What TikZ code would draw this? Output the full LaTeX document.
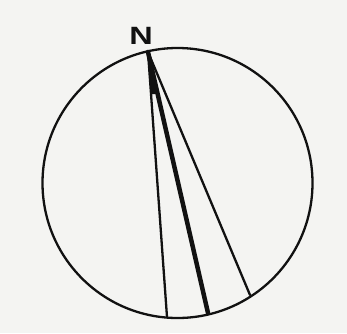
\documentclass[tikz,border=0pt]{standalone}
\usepackage{fontspec}
\setmainfont{Liberation Sans}
\usetikzlibrary{calc}
\definecolor{bgc}{HTML}{F4F4F2}
\definecolor{ink}{HTML}{111111}
\begin{document}
\begin{tikzpicture}[x=1pt,y=-1pt,line cap=round,
  thinline/.style={draw=ink,line width=2.3pt},
  thickline/.style={draw=ink,line width=4.5pt},
  label/.style={font=\bfseries\fontsize{25}{25}\selectfont,text=ink,inner sep=0pt,xscale=1.3}]
\fill[bgc] (0,0) rectangle (347,333);
\useasboundingbox (0,0) rectangle (347,333);
\node[draw=ink,circle,minimum size=270pt,line width=2.3pt,inner sep=0pt] (c) at (177.5,183) {};
\coordinate (a) at (148,52);
\coordinate (l) at (167,317);
\coordinate (m) at (208,313);
\coordinate (r) at (250,295);
\node[label] (N) at (141,36) {N};
\draw[thinline] (a) -- (l);
\draw[thickline] (a) -- (m);
\draw[thinline] (a) -- (r);
\fill[ink] (a) -- ($(a)!0.16!(l)$) -- ($(a)!0.16!(m)$) -- cycle;
\end{tikzpicture}
\end{document}
